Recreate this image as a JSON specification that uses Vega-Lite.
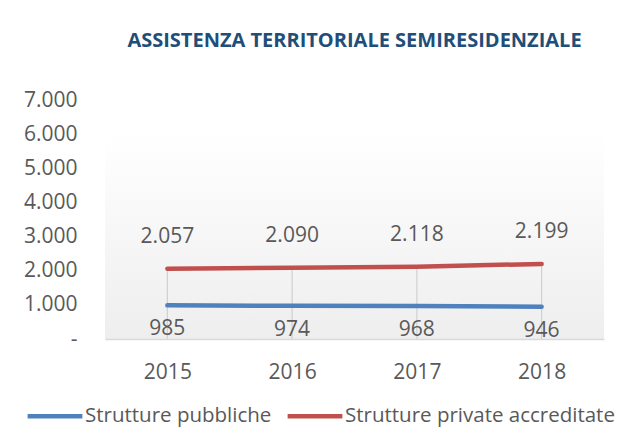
{
  "$schema": "https://vega.github.io/schema/vega-lite/v6.json",
  "width": 499,
  "height": 239,
  "autosize": {"type": "none"},
  "padding": {"left": 105, "top": 100, "right": 21, "bottom": 95},
  "background": "white",
  "config": {
    "font": "Open Sans",
    "view": {
      "stroke": null,
      "fill": {
        "gradient": "linear",
        "x1": 0, "y1": 0, "x2": 0, "y2": 1,
        "stops": [
          {"offset": 0, "color": "#ffffff"},
          {"offset": 0.143, "color": "#ffffff"},
          {"offset": 1, "color": "#eeeeee"}
        ]
      }
    },
    "locale": {
      "number": {"decimal": ",", "thousands": ".", "grouping": [3], "currency": ["€", ""]}
    }
  },
  "title": {
    "text": "ASSISTENZA TERRITORIALE SEMIRESIDENZIALE",
    "font": "Open Sans",
    "fontSize": 20,
    "fontWeight": "bold",
    "color": "#1f4e79",
    "anchor": "middle",
    "offset": 38
  },
  "data": {
    "values": [
      {"year": "2015", "series": "Strutture pubbliche", "value": 985},
      {"year": "2016", "series": "Strutture pubbliche", "value": 974},
      {"year": "2017", "series": "Strutture pubbliche", "value": 968},
      {"year": "2018", "series": "Strutture pubbliche", "value": 946},
      {"year": "2015", "series": "Strutture private accreditate", "value": 2057},
      {"year": "2016", "series": "Strutture private accreditate", "value": 2090},
      {"year": "2017", "series": "Strutture private accreditate", "value": 2118},
      {"year": "2018", "series": "Strutture private accreditate", "value": 2199}
    ]
  },
  "encoding": {
    "x": {
      "field": "year",
      "type": "ordinal",
      "scale": {"type": "point", "padding": 0.5},
      "axis": {
        "title": null,
        "labelAngle": 0,
        "labelFontSize": 21,
        "labelColor": "#595959",
        "labelPadding": 22,
        "ticks": false,
        "domainColor": "#d9d9d9",
        "domainWidth": 1.5,
        "grid": false
      }
    },
    "y": {
      "field": "value",
      "type": "quantitative",
      "scale": {"domain": [0, 7000]},
      "axis": {
        "title": null,
        "values": [0, 1000, 2000, 3000, 4000, 5000, 6000, 7000],
        "labelExpr": "datum.value == 0 ? '-\u00a0\u00a0' : format(datum.value, ',.0f')",
        "labelOverlap": false,
        "labelFontSize": 21,
        "labelColor": "#595959",
        "labelPadding": 28,
        "ticks": false,
        "domain": false,
        "grid": false
      }
    }
  },
  "layer": [
    {
      "transform": [{"filter": "datum.series == 'Strutture private accreditate'"}],
      "mark": {"type": "rule", "color": "#d0d0d0", "strokeWidth": 1.2},
      "encoding": {
        "y2": {"datum": 0}
      }
    },
    {
      "mark": {"type": "line", "strokeWidth": 4.5, "strokeCap": "round"},
      "encoding": {
        "color": {
          "field": "series",
          "type": "nominal",
          "scale": {
            "domain": ["Strutture pubbliche", "Strutture private accreditate"],
            "range": ["#4f81bd", "#c0504d"]
          },
          "legend": {
            "title": null,
            "orient": "none",
            "direction": "horizontal",
            "legendX": -80,
            "legendY": 286,
            "symbolType": "stroke",
            "symbolSize": 3000,
            "symbolStrokeWidth": 4.5,
            "labelFontSize": 20.5,
            "labelLimit": 0,
            "labelColor": "#595959",
            "labelOffset": 0,
            "columnPadding": 6
          }
        }
      }
    },
    {
      "transform": [{"filter": "datum.series == 'Strutture private accreditate'"}],
      "mark": {"type": "text", "dy": -32, "fontSize": 21, "color": "#595959"},
      "encoding": {
        "text": {"field": "value", "type": "quantitative", "format": ",.0f"}
      }
    },
    {
      "transform": [{"filter": "datum.series == 'Strutture pubbliche'"}],
      "mark": {"type": "text", "dy": 24, "fontSize": 21, "color": "#595959"},
      "encoding": {
        "text": {"field": "value", "type": "quantitative", "format": ",.0f"}
      }
    }
  ]
}
